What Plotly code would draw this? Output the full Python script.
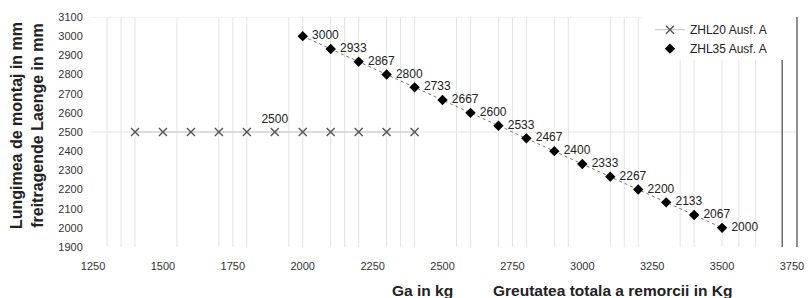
import plotly.graph_objects as go

# ---- data ----
zhl20_x = [1400, 1500, 1600, 1700, 1800, 1900, 2000, 2100, 2200, 2300, 2400]
zhl20_y = [2500, 2500, 2500, 2500, 2500, 2500, 2500, 2500, 2500, 2500, 2500]
zhl20_labels = ["", "", "", "", "", "2500", "", "", "", "", ""]

zhl35_x = [2000, 2100, 2200, 2300, 2400, 2500, 2600, 2700, 2800, 2900,
           3000, 3100, 3200, 3300, 3400, 3500]
zhl35_y = [3000, 2933, 2867, 2800, 2733, 2667, 2600, 2533, 2467, 2400,
           2333, 2267, 2200, 2133, 2067, 2000]
zhl35_labels = [" " + str(v) for v in zhl35_y]

x_ticks = [1250, 1500, 1750, 2000, 2250, 2500, 2750, 3000, 3250, 3500, 3750]
y_ticks = [1900, 2000, 2100, 2200, 2300, 2400, 2500, 2600, 2700, 2800,
           2900, 3000, 3100]

grid_x = [1300, 1350, 1400, 1550, 1700, 1750, 1800, 1950, 2000, 2100, 2150,
          2200, 2300, 2350, 2400, 2550, 2600, 2700, 2750, 2800, 2900, 2950,
          3100, 3150, 3200, 3350, 3400, 3500, 3560, 3620]
grid_y = [2500, 3100]
dark_x = [3715]

FONT = "Liberation Sans, Arial, sans-serif"

fig = go.Figure()

fig.add_trace(go.Scatter(
    x=zhl20_x, y=zhl20_y, mode="lines+markers+text", name="ZHL20 Ausf. A",
    text=zhl20_labels, textposition="top center",
    textfont=dict(size=12, color="#222", family=FONT),
    line=dict(color="#c4c4c4", width=1),
    marker=dict(symbol="x-thin-open", size=8, color="#555",
                line=dict(width=1.4, color="#555")),
))
fig.add_trace(go.Scatter(
    x=zhl35_x, y=zhl35_y, mode="lines", showlegend=False,
    line=dict(color="#777", width=1, dash="dot"), hoverinfo="skip",
))
fig.add_trace(go.Scatter(
    x=zhl35_x, y=zhl35_y, mode="markers+text", name="ZHL35 Ausf. A",
    text=zhl35_labels, textposition="middle right",
    textfont=dict(size=12, color="#222", family=FONT),
    marker=dict(symbol="diamond", size=8, color="#000"),
))

shapes = []
for gx in grid_x:
    shapes.append(dict(type="line", xref="x", yref="paper", x0=gx, x1=gx,
                       y0=0, y1=1, line=dict(color="#e3e3e3", width=1),
                       layer="below"))
for gy in grid_y:
    shapes.append(dict(type="line", xref="paper", yref="y", x0=0, x1=1,
                       y0=gy, y1=gy, line=dict(color="#e6e6e6", width=1),
                       layer="below"))
for dx in dark_x:
    shapes.append(dict(type="line", xref="x", yref="paper", x0=dx, x1=dx,
                       y0=0, y1=1, line=dict(color="#555", width=1.3),
                       layer="below"))
# white legend backdrop
shapes.append(dict(type="rect", xref="paper", yref="paper", x0=0.781, x1=0.995,
                   y0=0.813, y1=1.0, fillcolor="white", line=dict(width=0),
                   layer="below"))
# right border
shapes.append(dict(type="line", xref="paper", yref="paper", x0=1, x1=1,
                   y0=0, y1=1, line=dict(color="#555", width=1.3)))

fig.update_layout(
    width=811, height=298,
    margin=dict(l=90, r=14, t=17, b=51),
    paper_bgcolor="white", plot_bgcolor="white",
    font=dict(family=FONT, size=11, color="#333"),
    shapes=shapes,
    showlegend=True,
    legend=dict(x=0.792, y=1.008, xanchor="left", yanchor="top",
                bgcolor="rgba(255,255,255,0)", borderwidth=0,
                font=dict(size=12, color="#222", family=FONT),
                tracegroupgap=0, itemwidth=30),
    xaxis=dict(range=[1239, 3768], tickvals=x_ticks, showgrid=False,
               zeroline=False, showline=False, ticks="outside", ticklen=9,
               tickcolor="rgba(0,0,0,0)", tickfont=dict(size=11, color="#333"),
               automargin=False),
    yaxis=dict(range=[1900, 3100], tickvals=y_ticks, showgrid=False,
               zeroline=False, showline=False, ticks="outside", ticklen=4,
               tickcolor="rgba(0,0,0,0)", tickfont=dict(size=11, color="#333"),
               automargin=False),
    annotations=[
        dict(text="<b>Lungimea de montaj in mm<br>freitragende Laenge in mm</b>",
             xref="paper", yref="paper", x=-0.089, y=0.526, xanchor="center",
             yanchor="middle", textangle=-90, showarrow=False,
             font=dict(size=16, color="#222", family=FONT)),
        dict(text="<b>Ga in kg</b>", xref="paper", yref="paper", x=0.4696,
             y=-0.187, xanchor="center", yanchor="middle", showarrow=False,
             font=dict(size=15.5, color="#222", family=FONT)),
        dict(text="<b>Greutatea totala a remorcii in Kg</b>", xref="paper",
             yref="paper", x=0.7397, y=-0.187, xanchor="center", yanchor="middle",
             showarrow=False, font=dict(size=15.5, color="#222", family=FONT)),
    ],
)

fig.write_html("out.html", config={"displayModeBar": False},
               post_script="document.body.style.margin='0';document.body.style.overflow='hidden';")
